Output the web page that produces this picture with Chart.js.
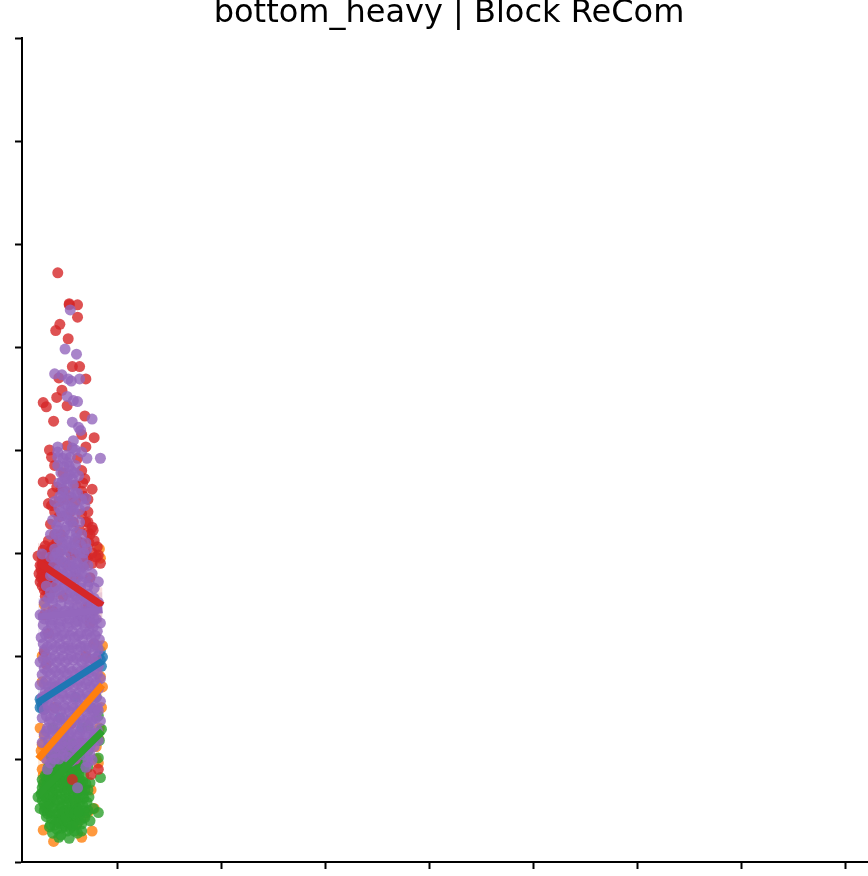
<!DOCTYPE html>
<html>
<head>
<meta charset="utf-8">
<title>bottom_heavy | Block ReCom</title>
<script src="https://cdn.jsdelivr.net/npm/chart.js@4"></script>
<style>
  html, body { margin: 0; padding: 0; background: #fff; overflow: hidden; }
  canvas { display: block; }
</style>
</head>
<body>
<canvas id="scatterChart" width="883" height="876"></canvas>
<script>
const chartTitle = 'bottom_heavy | Block ReCom';
const xTicks = [100, 200, 300, 400, 500, 600, 700, 800];
const yTicks = [0, 100, 200, 300, 400, 500, 600, 700, 800];

const bluePoints = [
  [26,158],[27,155],[28,150],[30,148],[26,150],[29,156],[84,205],[86,199],[84,196],[82,200],[85,190],
  [40,170],[55,176],[70,186],[60,160],[45,140],[75,150],[35,165],[66,130],[50,120]
];
const orangePoints = [
  [39,20],[29,31],[28,114],[28,90],[82,96],[80,112],[86,210],[28,200],[30,250],[83,304],[84,295],
  [68,44],[72,48],[78,52],[76,30],[62,38],[30,122],[32,100],[84,180],[86,170],[85,150],[83,130],
  [82,120],[26,130],[28,175],[75,70],[80,100],[66,24],[60,60],[34,105],[30,76],[27,108],[29,84]
];
const greenPoints = [
  [54,23],[62,28],[66,37],[59,30],[47,33],[35,34],[32,44],[82,48],[77,52],[70,48],[72,50],[24,63],
  [28,80],[84,82],[82,101],[83,118],[85,129],[73,63],[74,77],[36,36],[38,28],[42,32],[46,26],[50,35],
  [55,33],[58,38],[44,42],[48,44],[52,46],[56,44],[60,42],[64,46],[68,50],[40,46],[36,48],[34,54],
  [30,56],[28,60],[32,62],[36,60],[40,58],[44,54],[48,56],[52,58],[56,54],[60,56],[64,58],[68,62],
  [72,70],[30,70],[34,72],[38,68],[42,66],[46,66],[50,68],[54,64],[58,66],[62,68],[66,70],[70,76],
  [28,72],[32,80],[36,78],[40,76],[44,78],[48,76],[52,74],[56,76],[60,78],[64,80],[68,84],[36,86],
  [40,86],[44,88],[48,86],[52,84],[56,86],[60,88],[64,90],[68,92],[34,92],[38,96],[42,98],[46,94],
  [50,96],[54,98],[58,94],[62,98],[46,104],[50,106],[54,108],[42,104],[58,104],[66,104],[72,108],
  [38,130],[72,132],[78,122],[80,160],[82,142],[46,52],[50,50],[54,50],[58,50],[62,52],[40,36],[44,24],
  [30,50],[26,52],[74,40],[66,30],[52,30],
  [33,47],[37,42],[41,41],[45,37],[49,40],[53,39],[57,35],[61,36],[65,41],[69,43],[31,53],[35,57],
  [39,52],[43,48],[47,47],[51,43],[55,48],[59,47],[63,49],[67,55],[71,58],[27,66],[31,64],[35,66],
  [39,63],[43,60],[47,61],[51,62],[55,60],[59,61],[63,63],[67,66],[29,76],[33,75],[37,73],[41,71],
  [45,72],[49,72],[53,70],[57,71],[61,73],[65,75],[69,70],[31,84],[35,82],[39,81],[43,83],[47,81],
  [51,79],[55,81],[59,83],[63,85],[67,78],[33,88],[37,90],[41,92],[45,90],[49,91],[53,91],[57,90],
  [61,93],[65,96],[72,92],[70,100],[37,102],[43,109],[48,113],[56,116],[62,110]
];
const redPoints = [
  [43,572],[54,542],[54,541],[62,541],[62,529],[45,522],[41,516],[53,508],[57,481],[64,481],[70,469],
  [44,470],[47,458],[42,451],[29,446],[32,442],[52,443],[69,433],[39,428],[66,415],[78,412],[70,403],
  [35,400],[52,404],[37,393],[29,369],[69,372],[76,362],[67,368],[34,348],[37,346],[76,325],[77,322],
  [81,306],[31,307],[29,303],[24,297],[84,290],[26,288],[28,280],[30,292],[32,284],[33,275],[35,290],
  [36,270],[38,282],[30,270],[34,262],[28,296],[40,276],[37,296],[31,258],[26,272],[50,360],[60,350],
  [55,340],[44,335],[66,338],[70,330],[72,320],[46,318],[62,312],[56,298],[72,296],[68,288],[76,300],
  [52,288],[60,276],[74,276],[30,240],[34,222],[30,204],[32,192],[70,200],[74,232],[78,212],[79,195],
  [82,90],[57,80],[40,150],[56,134],[66,116],[60,100],[46,126],[75,85],[48,378],[40,385],[62,392],
  [66,380],[58,300],[64,262],[48,258],[72,248],[38,244],
  [27,284],[29,287],[31,279],[33,283],[35,277],[36,286],[38,272],[40,287],[28,268],[32,266],[35,258],
  [42,292],[44,300],[38,306],[34,312],[40,318],[66,296],[69,304],[73,310],[64,322],[58,330],[52,352],
  [46,362],[60,366],[68,355],[40,340],[36,328],[72,340],[78,312],[82,298],
  [25,280],[27,276],[29,274],[31,286],[33,292],[34,268],[37,276],[39,266],[41,282],[30,264],[28,290],
  [32,298],[36,302],[42,310],[74,318],[70,296],[66,310],[76,290],[80,296],[72,330],[44,350],[38,358],
  [36,372],[42,364],[66,360],[72,352]
];
const purplePoints = [
  [55,536],[50,498],[61,493],[40,474],[47,473],[53,469],[56,467],[64,469],[52,452],[58,448],[62,447],
  [76,430],[57,427],[63,422],[65,419],[58,409],[57,402],[43,403],[43,398],[60,400],[66,398],[84,392],
  [71,392],[55,393],[43,393],[51,395],[43,385],[46,378],[50,372],[44,368],[48,362],[52,388],[56,380],
  [60,385],[63,375],[58,366],[54,358],[62,358],[66,352],[45,355],[50,348],[56,344],[40,350],[70,353],
  [69,346],[47,336],[54,332],[60,338],[38,332],[42,326],[50,322],[58,326],[64,330],[36,318],[44,314],
  [52,312],[66,318],[70,310],[40,304],[48,304],[56,306],[64,300],[71,304],[36,296],[44,294],[50,296],
  [62,290],[68,286],[39,288],[47,284],[55,282],[60,282],[76,280],[32,268],[42,276],[50,274],[58,270],
  [66,272],[72,268],[78,266],[28,299],[36,262],[44,264],[52,260],[60,258],[68,258],[74,256],[82,272],
  [30,252],[38,252],[46,250],[54,250],[62,248],[70,248],[78,244],[26,240],[34,240],[42,240],[50,238],
  [58,240],[66,238],[74,238],[82,252],[29,230],[37,230],[45,228],[53,228],[61,230],[69,228],[77,228],
  [84,232],[27,218],[35,218],[43,218],[51,216],[59,218],[67,216],[75,218],[83,216],[30,206],[38,206],
  [46,206],[54,206],[62,206],[70,206],[78,204],[26,194],[34,194],[42,194],[50,194],[58,196],[66,194],
  [74,192],[82,190],[28,182],[36,182],[44,182],[52,182],[60,182],[68,182],[76,180],[84,178],[26,172],
  [34,170],[42,170],[50,170],[58,170],[66,170],[74,170],[82,168],[28,160],[36,160],[44,158],[52,158],
  [60,158],[68,158],[76,158],[84,156],[30,148],[38,148],[46,146],[54,146],[62,146],[70,146],[78,146],
  [28,140],[35,136],[43,136],[51,134],[59,136],[67,134],[75,136],[84,137],[30,124],[38,124],[46,122],
  [54,124],[62,122],[70,122],[78,124],[79,148],[28,116],[34,112],[42,112],[50,112],[58,112],[66,112],
  [74,112],[82,118],[32,100],[40,106],[46,108],[55,108],[62,106],[72,97],[76,99],[33,90],[62,72],
  [49,384],[54,376],[47,369],[52,366],[57,372],[60,358],[48,352],[53,345],[44,344],[59,348],[64,342],
  [50,336],[56,330],[44,330],[41,318],[48,316],[55,318],[61,320],[47,310],[53,302],[59,310],[65,308],
  [42,300],[50,290],[56,292],[61,298],[67,294],[44,284],[52,280],[58,286],[72,288],[36,278],[46,274],
  [54,270],[62,276],[70,276],[34,256],[40,262],[48,266],[56,262],[64,254],[72,260],[78,256],[32,246],
  [42,246],[50,244],[58,246],[66,244],[74,246],[80,236],[30,236],[38,235],[46,234],[54,236],[62,234],
  [70,236],[78,236],[33,224],[41,224],[49,222],[57,224],[65,222],[73,224],[81,224],[29,212],[37,212],
  [45,212],[53,210],[61,212],[69,210],[77,212],[82,206],[32,200],[40,200],[48,200],[56,200],[64,200],
  [72,198],[80,198],[30,188],[38,188],[46,188],[54,188],[62,188],[70,188],[78,186],[32,176],[40,176],
  [48,176],[56,176],[64,176],[72,176],[80,174],[31,165],[39,165],[47,164],[55,164],[63,164],[71,164],
  [79,163],[33,154],[41,153],[49,152],[57,152],[65,152],[73,152],[81,150],[32,142],[40,142],[48,140],
  [56,140],[64,140],[72,140],[80,140],[33,130],[41,130],[49,128],[57,128],[65,128],[73,130],[81,128],
  [34,118],[42,118],[50,118],[58,118],[66,118],[72,116],[78,112],[37,106],[44,100],[52,102],[60,100],
  [68,104],[36,96],[70,92],[74,104],
  [39,242],[47,242],[55,243],[63,241],[71,242],[36,233],[44,231],[52,232],[60,233],[68,232],[76,232],
  [31,221],[39,221],[47,220],[55,220],[63,220],[71,221],[79,220],[33,209],[41,209],[49,208],[57,208],
  [65,209],[73,208],[81,210],[29,197],[37,197],[45,197],[53,197],[61,198],[69,197],[77,197],[33,185],
  [41,185],[49,185],[57,185],[65,185],[73,184],[81,183],[30,173],[38,173],[46,173],[54,173],[62,173],
  [70,173],[78,171],[32,162],[40,162],[48,161],[56,161],[64,161],[72,161],[80,160],[34,150],[42,150],
  [50,149],[58,149],[66,149],[74,149],[82,147],[36,139],[44,138],[52,137],[60,138],[68,137],[76,138],
  [32,127],[40,127],[48,125],[56,125],[64,125],[72,126],[80,125],[38,115],[46,115],[54,115],[62,115],
  [70,114],[76,117],[40,100],[48,104],[56,98],[64,109],[38,256],[46,257],[54,255],[62,256],[70,255],
  [76,250],[41,268],[49,268],[57,265],[65,266],[73,272],[38,280],[48,279],[56,276],[64,284],[40,296],
  [47,292],[54,288],[60,290],[66,280],[46,302],[52,308],[60,304],[68,300],[43,322],[52,326],[60,314],
  [46,340],[52,338],[58,342],[48,358],[56,354],[52,372],[48,392],[54,384],[59,378]
];

// regression lines and their confidence bands, read at the left and right end of the data
const lineX = [24, 86];
const blueLine = [155, 195];
const orangeLine = [100, 172];
const greenLine = [65, 127];
const redLine = [291, 249];
const purpleLine = [238, 245];
const blueBand = [[140, 170], [182, 208]];
const orangeBand = [[88, 112], [162, 184]];
const greenBand = [[56, 74], [118, 136]];
const redBand = [[272, 310], [232, 266]];
const purpleBand = [[220, 256], [228, 262]];

const colors = { blue: '31,119,180', orange: '255,127,14', green: '44,160,44', red: '214,39,40', purple: '148,103,189' };

function toXY(pairs) {
  return pairs.map(p => ({ x: p[0], y: p[1] }));
}

function scatterSet(points, rgb, order) {
  return {
    type: 'scatter',
    data: toXY(points),
    order: order,
    showLine: false,
    pointRadius: 5.5,
    pointBorderWidth: 0,
    pointBackgroundColor: 'rgba(' + rgb + ',0.8)'
  };
}

function lineSet(values, rgb, order) {
  return {
    type: 'line',
    data: lineX.map((x, i) => ({ x: x, y: values[i] })),
    order: order,
    borderColor: 'rgb(' + rgb + ')',
    borderWidth: 7,
    borderCapStyle: 'butt',
    pointRadius: 0,
    fill: false
  };
}

// two thin lines per band, the first one fills down to the second
function bandSets(band, rgb, order, startIndex) {
  const edge = side => ({
    type: 'line',
    data: lineX.map((x, i) => ({ x: x, y: band[i][side] })),
    order: order,
    borderWidth: 0,
    pointRadius: 0
  });
  const upper = edge(1);
  upper.fill = { target: startIndex + 1 };
  upper.backgroundColor = 'rgba(' + rgb + ',0.15)';
  const lower = edge(0);
  lower.fill = false;
  return [upper, lower];
}

function buildDatasets() {
  const sets = [
    scatterSet(bluePoints, colors.blue, 100),
    scatterSet(orangePoints, colors.orange, 90),
    scatterSet(greenPoints, colors.green, 80),
    scatterSet(redPoints, colors.red, 70),
    scatterSet(purplePoints, colors.purple, 60)
  ];
  const bands = [
    [blueBand, colors.blue], [orangeBand, colors.orange], [greenBand, colors.green],
    [redBand, colors.red], [purpleBand, colors.purple]
  ];
  // bands go under the dots so they only show at the edge of the cloud
  bands.forEach(b => {
    sets.push(...bandSets(b[0], b[1], 110, sets.length));
  });
  sets.push(lineSet(blueLine, colors.blue, 5));
  sets.push(lineSet(orangeLine, colors.orange, 4));
  sets.push(lineSet(greenLine, colors.green, 3));
  sets.push(lineSet(redLine, colors.red, 2));
  sets.push(lineSet(purpleLine, colors.purple, 1));
  return sets;
}

function axisOptions(min, max, tickValues) {
  return {
    type: 'linear',
    min: min,
    max: max,
    afterBuildTicks: axis => { axis.ticks = tickValues.map(v => ({ value: v })); },
    ticks: { display: false },
    border: { display: true, color: '#000', width: 2 },
    grid: { drawOnChartArea: false, drawTicks: true, tickLength: 7, tickWidth: 2, tickColor: '#000' }
  };
}

new Chart(document.getElementById('scatterChart'), {
  data: { datasets: buildDatasets() },
  options: {
    responsive: false,
    animation: false,
    devicePixelRatio: 1,
    layout: { padding: { left: 15, right: 0, top: 0, bottom: 7 } },
    scales: {
      x: axisOptions(8.6, 831.2, xTicks),
      y: axisOptions(0, 800, yTicks)
    },
    plugins: {
      legend: { display: false },
      tooltip: { enabled: false },
      title: {
        display: true,
        text: chartTitle,
        color: '#000',
        font: { family: '"DejaVu Sans"', size: 32, weight: 'normal', lineHeight: 1.2 },
        padding: { top: -6, bottom: 5.6 }
      }
    }
  }
});
</script>
</body>
</html>
